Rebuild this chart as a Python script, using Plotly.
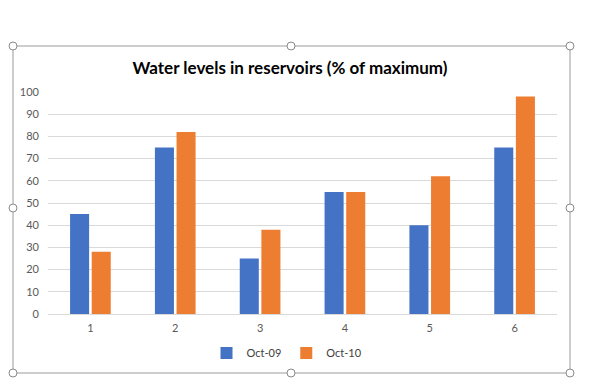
import plotly.graph_objects as go

categories = ["1", "2", "3", "4", "5", "6"]
oct09 = [45, 75, 25, 55, 40, 75]
oct10 = [28, 82, 38, 55, 62, 98]
series_names = ["Oct-09", "Oct-10"]
title_text = "Water levels in reservoirs (% of maximum)"

OFF = 8  # page body margin in the rendered page
W, H = 596 - OFF, 384 - OFF
L, R, T, B = 48 - OFF, 557 - OFF, 92 - OFF, 314 - OFF  # plot area in pixels


def px(x):
    return (x - OFF - L) / (R - L)


def py(y):
    return (B - (y - OFF)) / (B - T)


fig = go.Figure()
fig.add_trace(go.Bar(x=categories, y=oct09, name=series_names[0],
                     marker=dict(color="#4472C4", line=dict(width=0))))
fig.add_trace(go.Bar(x=categories, y=oct10, name=series_names[1],
                     marker=dict(color="#ED7D31", line=dict(width=0))))

shapes = []
# chart border
shapes.append(dict(type="rect", xref="paper", yref="paper",
                   x0=px(13), x1=px(570), y0=py(373), y1=py(46),
                   line=dict(color="#9a9a9a", width=1), layer="below"))
# selection handles
for hx, hy in [(13, 46), (291, 46), (570, 46), (13, 208), (570, 208),
               (13, 373), (291, 373), (570, 373)]:
    shapes.append(dict(type="circle", xref="paper", yref="paper",
                       x0=px(hx - 4), x1=px(hx + 4), y0=py(hy + 4), y1=py(hy - 4),
                       line=dict(color="#8a8a8a", width=1), fillcolor="white"))

fig.update_layout(
    width=W, height=H,
    margin=dict(l=L, r=W - R, t=T, b=H - B, pad=0),
    paper_bgcolor="white", plot_bgcolor="white",
    font=dict(family="Lato, Open Sans, sans-serif", color="#595959", size=11),
    title=dict(text="<b>" + title_text + "</b>", x=px(290), xanchor="center",
               xref="paper", y=1 - (68 - OFF) / H, yanchor="middle",
               font=dict(size=17, color="#000000", family="Lato, Open Sans, sans-serif")),
    barmode="group", bargap=0.49, bargroupgap=0.12,
    showlegend=True,
    legend=dict(orientation="h", x=px(287), xanchor="center", y=py(353), yanchor="middle",
                font=dict(size=11, color="#404040"), itemwidth=30,
                bgcolor="rgba(0,0,0,0)"),
    xaxis=dict(showgrid=False, showline=True, linecolor="#d9d9d9", linewidth=1,
               ticks="", ticklabelstandoff=4, tickfont=dict(size=11, color="#595959"),
               zeroline=False),
    yaxis=dict(range=[0, 100], autorange=False, dtick=10, showgrid=True,
               gridcolor="#d9d9d9", gridwidth=1, zeroline=False, showline=False,
               ticks="", ticklabelstandoff=8, tickfont=dict(size=11, color="#595959")),
    shapes=shapes,
)

fig.write_html("out.html")
